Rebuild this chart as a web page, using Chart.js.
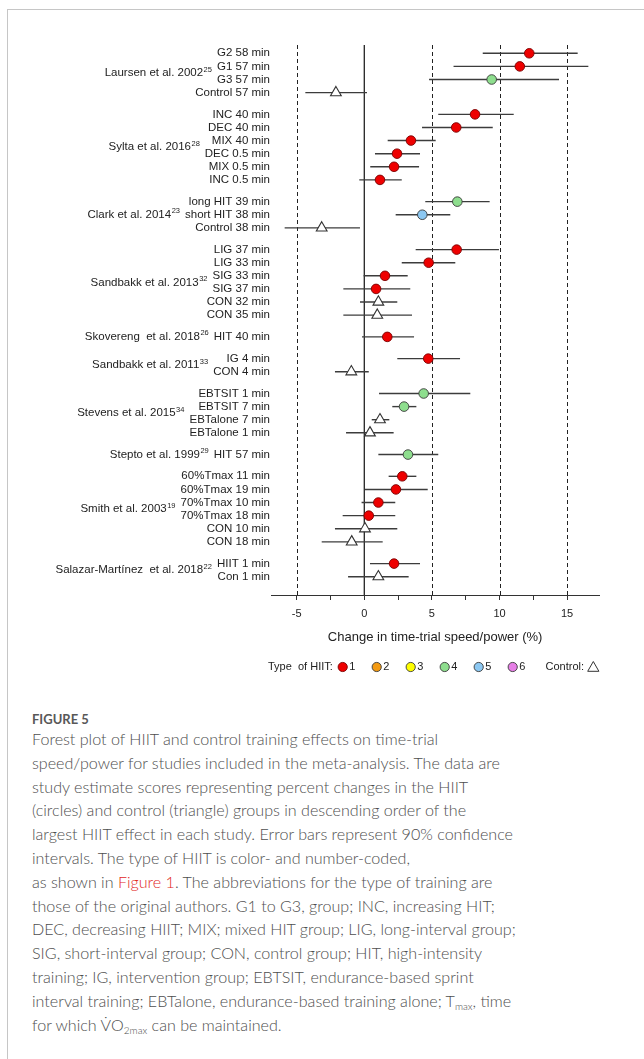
<!DOCTYPE html>
<html>
<head>
<meta charset="utf-8">
<script src="https://cdn.jsdelivr.net/npm/chart.js@4.4.1/dist/chart.umd.min.js"></script>
<style>
  html, body { margin: 0; padding: 0; background: #fff; }
  body { width: 644px; height: 1059px; position: relative; overflow: hidden; }
  #frame { position: absolute; left: 7px; top: 9px; width: 660px; height: 1080px;
           border-left: 1px solid #c6c6c6; border-top: 1px solid #c6c6c6; }
  #plot { position: absolute; left: 0; top: 0; }
  #figTitle { position: absolute; left: 32px; top: 709px; line-height: 20px;
              font-family: Lato, "Open Sans", sans-serif; font-weight: bold; font-size: 13px; color: #585858; }
  #caption { position: absolute; left: 32px; top: 727px; white-space: nowrap;
             font-family: Lato, "Open Sans", sans-serif; font-weight: 300; font-size: 16.1px; line-height: 23.8px; color: #4e4e4e; }
  #caption .ref { color: #e2281e; }
  #caption sub { font-size: 10px; vertical-align: -3px; line-height: 0; }
</style>
</head>
<body>
<div id="frame"></div>
<canvas id="plot" width="644" height="690"></canvas>
<div id="figTitle">FIGURE 5</div>
<div id="caption">
  <div>Forest plot of HIIT and control training effects on time-trial</div>
  <div>speed/power for studies included in the meta-analysis. The data are</div>
  <div>study estimate scores representing percent changes in the HIIT</div>
  <div>(circles) and control (triangle) groups in descending order of the</div>
  <div>largest HIIT effect in each study. Error bars represent 90% confidence</div>
  <div>intervals. The type of HIIT is color- and number-coded,</div>
  <div>as shown in <span class="ref">Figure 1</span>. The abbreviations for the type of training are</div>
  <div>those of the original authors. G1 to G3, group; INC, increasing HIT;</div>
  <div>DEC, decreasing HIIT; MIX; mixed HIT group; LIG, long-interval group;</div>
  <div>SIG, short-interval group; CON, control group; HIT, high-intensity</div>
  <div>training; IG, intervention group; EBTSIT, endurance-based sprint</div>
  <div>interval training; EBTalone, endurance-based training alone; T<sub>max</sub>, time</div>
  <div>for which V&#775;O<sub>2max</sub> can be maintained.</div>
</div>
<script>
// Studies, in plotted order, with their reference numbers and number of groups
const studyNames = ['Laursen et al. 2002', 'Sylta et al. 2016', 'Clark et al. 2014', 'Sandbakk et al. 2013',
  'Skovereng  et al. 2018', 'Sandbakk et al. 2011', 'Stevens et al. 2015', 'Stepto et al. 1999',
  'Smith et al. 2003', 'Salazar-Martínez  et al. 2018'];
const studyRefs = ['25', '28', '23', '32', '26', '33', '34', '29', '19', '22'];
const studySizes = [4, 6, 3, 6, 1, 2, 4, 1, 6, 2];

// One entry per group (row)
const groupLabels = [
  'G2 58 min', 'G1 57 min', 'G3 57 min', 'Control 57 min',
  'INC 40 min', 'DEC 40 min', 'MIX 40 min', 'DEC 0.5 min', 'MIX 0.5 min', 'INC 0.5 min',
  'long HIT 39 min', 'short HIT 38 min', 'Control 38 min',
  'LIG 37 min', 'LIG 33 min', 'SIG 33 min', 'SIG 37 min', 'CON 32 min', 'CON 35 min',
  'HIT 40 min',
  'IG 4 min', 'CON 4 min',
  'EBTSIT 1 min', 'EBTSIT 7 min', 'EBTalone 7 min', 'EBTalone 1 min',
  'HIT 57 min',
  '60%Tmax 11 min', '60%Tmax 19 min', '70%Tmax 10 min', '70%Tmax 18 min', 'CON 10 min', 'CON 18 min',
  'HIIT 1 min', 'Con 1 min'
];
// Percent change in time-trial speed/power
const effect = [12.2, 11.5, 9.42, -2.1,
  8.19, 6.8, 3.45, 2.42, 2.2, 1.16,
  6.88, 4.29, -3.15,
  6.83, 4.76, 1.53, 0.87, 1.04, 0.96,
  1.7,
  4.73, -0.96,
  4.39, 2.94, 1.16, 0.42,
  3.23,
  2.81, 2.34, 1.04, 0.33, 0.05, -0.93,
  2.2, 1.04];
// 90% confidence limits
const ciLow = [8.76, 6.6, 4.79, -4.36,
  5.47, 4.27, 1.73, 0.79, 0.44, -0.37,
  4.51, 2.32, -5.89,
  3.8, 2.77, -0.05, -1.55, -0.32, -1.55,
  -0.17,
  2.44, -2.17,
  1.09, 2.07, 0.55, -1.35,
  1.04,
  1.8, 0.05, -0.2, -1.6, -2.17, -3.15,
  0.42, -1.2];
const ciHigh = [15.78, 16.57, 14.4, 0.2,
  11.05, 9.5, 5.28, 4.12, 4.05, 2.77,
  9.27, 6.36, -0.32,
  9.96, 6.73, 3.21, 3.4, 2.44, 3.53,
  3.68,
  7.08, 0.33,
  7.84, 3.85, 1.85, 2.17,
  5.47,
  3.85, 4.69, 2.29, 2.29, 2.44, 1.36,
  4.12, 3.28];
// HIIT type 1-6; 0 = control group
const hiitType = [1, 1, 4, 0,
  1, 1, 1, 1, 1, 1,
  4, 5, 0,
  1, 1, 1, 1, 0, 0,
  1,
  1, 0,
  4, 4, 0, 0,
  4,
  1, 1, 1, 1, 0, 0,
  1, 0];

const typeNames = ['1', '2', '3', '4', '5', '6'];
const typeColors = ['#ee0000', '#f39a12', '#ffff00', '#8ede8e', '#8cc8f2', '#e67fe6'];

const xTickValues = [-5, -2.5, 0, 2.5, 5, 7.5, 10, 12.5, 15];
const refLines = [-5, 5, 10, 15];

// Row positions on the value axis: consecutive rows one unit apart, extra gap between studies
const GROUP_GAP = 0.66;
const rowPos = [];
(function () {
  let r = 0;
  studySizes.forEach((n, g) => {
    for (let k = 0; k < n; k++) { rowPos.push(r + g * GROUP_GAP); r++; }
  });
})();

const FONT = '"Liberation Sans", Arial, sans-serif';
const INK = '#222';

const datasets = [];
typeNames.forEach((name, t) => {
  const pts = [];
  effect.forEach((v, i) => { if (hiitType[i] === t + 1) pts.push({ x: v, y: rowPos[i] }); });
  datasets.push({
    label: 'Type ' + name, data: pts, pointStyle: 'circle', pointRadius: 4.8,
    backgroundColor: typeColors[t], borderColor: t === 0 ? '#7a0000' : '#3a3a3a', borderWidth: 0.9
  });
});
datasets.push({
  label: 'Control',
  data: effect.map((v, i) => ({ x: v, y: rowPos[i], c: hiitType[i] })).filter(p => p.c === 0),
  pointStyle: 'triangle', pointRadius: 6.2, backgroundColor: '#fff', borderColor: '#333', borderWidth: 1.1
});

const forestDecor = {
  id: 'forestDecor',
  beforeDatasetsDraw(chart) {
    const { ctx, chartArea: a, scales: { x, y } } = chart;
    ctx.save();
    // reference lines
    ctx.strokeStyle = '#222';
    ctx.lineWidth = 1;
    ctx.setLineDash([4, 3]);
    refLines.forEach(v => {
      const px = Math.round(x.getPixelForValue(v)) + 0.5;
      ctx.beginPath(); ctx.moveTo(px, a.top); ctx.lineTo(px, a.bottom); ctx.stroke();
    });
    ctx.setLineDash([]);
    ctx.lineWidth = 1.3;
    const p0 = x.getPixelForValue(0);
    ctx.beginPath(); ctx.moveTo(p0, a.top); ctx.lineTo(p0, a.bottom); ctx.stroke();
    // confidence intervals
    ctx.strokeStyle = '#3c3c3c';
    ctx.lineWidth = 1.4;
    effect.forEach((v, i) => {
      const py = y.getPixelForValue(rowPos[i]);
      ctx.beginPath();
      ctx.moveTo(x.getPixelForValue(ciLow[i]), py);
      ctx.lineTo(x.getPixelForValue(ciHigh[i]), py);
      ctx.stroke();
    });
    ctx.restore();
  },
  afterDraw(chart) {
    const { ctx, scales: { y } } = chart;
    ctx.save();
    ctx.fillStyle = INK;
    ctx.textBaseline = 'middle';
    const labelRight = y.right - 1;
    // study names, placed beside the group labels they sit next to
    let first = 0;
    studyNames.forEach((name, s) => {
      const n = studySizes[s];
      const ys = rowPos.slice(first, first + n).map(v => y.getPixelForValue(v));
      const cy = ys.reduce((a, b) => a + b, 0) / n;
      ctx.font = '11.5px ' + FONT;
      let widest = 0;
      ys.forEach((py, k) => {
        if (Math.abs(py - cy) < 10) widest = Math.max(widest, ctx.measureText(groupLabels[first + k]).width);
      });
      const right = labelRight - widest - 5;
      ctx.font = '7.5px ' + FONT;
      const supW = ctx.measureText(studyRefs[s]).width;
      ctx.textAlign = 'left';
      ctx.fillText(studyRefs[s], right - supW, cy - 3.5);
      ctx.font = '11.5px ' + FONT;
      ctx.textAlign = 'right';
      ctx.fillText(name, right - supW - 0.5, cy);
      first += n;
    });
    // key to marker colours
    const ly = 667;
    ctx.font = '11px ' + FONT;
    ctx.textAlign = 'left';
    ctx.fillText('Type  of HIIT:', 268, ly);
    typeNames.forEach((name, t) => {
      const cx = 342.7 + t * 34;
      ctx.beginPath();
      ctx.arc(cx, ly, 4.6, 0, Math.PI * 2);
      ctx.fillStyle = typeColors[t];
      ctx.fill();
      ctx.lineWidth = 0.9;
      ctx.strokeStyle = t === 0 ? '#7a0000' : '#3a3a3a';
      ctx.stroke();
      ctx.fillStyle = INK;
      ctx.fillText(name, cx + 6.5, ly);
    });
    ctx.fillText('Control:', 545.5, ly);
    const tx = 593.3;
    ctx.beginPath();
    ctx.moveTo(tx, ly - 5.5); ctx.lineTo(tx + 5.6, ly + 4.3); ctx.lineTo(tx - 5.6, ly + 4.3); ctx.closePath();
    ctx.strokeStyle = '#333'; ctx.lineWidth = 1; ctx.stroke();
    ctx.restore();
  }
};

new Chart(document.getElementById('plot'), {
  type: 'scatter',
  data: { datasets },
  options: {
    responsive: false,
    animation: false,
    events: [],
    layout: { padding: { left: 0, right: 44.7, top: 45, bottom: 0 } },
    plugins: { legend: { display: false }, tooltip: { enabled: false } },
    scales: {
      x: {
        type: 'linear', min: -6.9, max: 17.38,
        afterFit(s) { s.height = 95; },
        afterBuildTicks(s) { s.ticks = xTickValues.map(v => ({ value: v })); },
        grid: { display: true, drawOnChartArea: false, drawTicks: true, tickLength: 5, color: '#333', lineWidth: 1 },
        border: { display: true, color: '#333', width: 1 },
        ticks: {
          autoSkip: false, padding: 7, color: INK, font: { family: FONT, size: 11 },
          callback: v => (v % 5 === 0 ? String(v) : '')
        },
        title: {
          display: true, text: 'Change in time-trial speed/power (%)', color: INK,
          font: { family: FONT, size: 13 }, padding: { top: 4, bottom: 45 }
        }
      },
      y: {
        type: 'linear', reverse: true,
        min: -0.633, max: rowPos[rowPos.length - 1] + 1.396,
        afterFit(s) { s.width = 271; },
        afterBuildTicks(s) { s.ticks = rowPos.map(v => ({ value: v })); },
        grid: { display: false, drawTicks: false },
        border: { display: false },
        ticks: {
          autoSkip: false, padding: 1, color: INK, font: { family: FONT, size: 11.5 },
          callback: (v, i) => groupLabels[i]
        }
      }
    }
  },
  plugins: [forestDecor]
});
</script>
</body>
</html>
